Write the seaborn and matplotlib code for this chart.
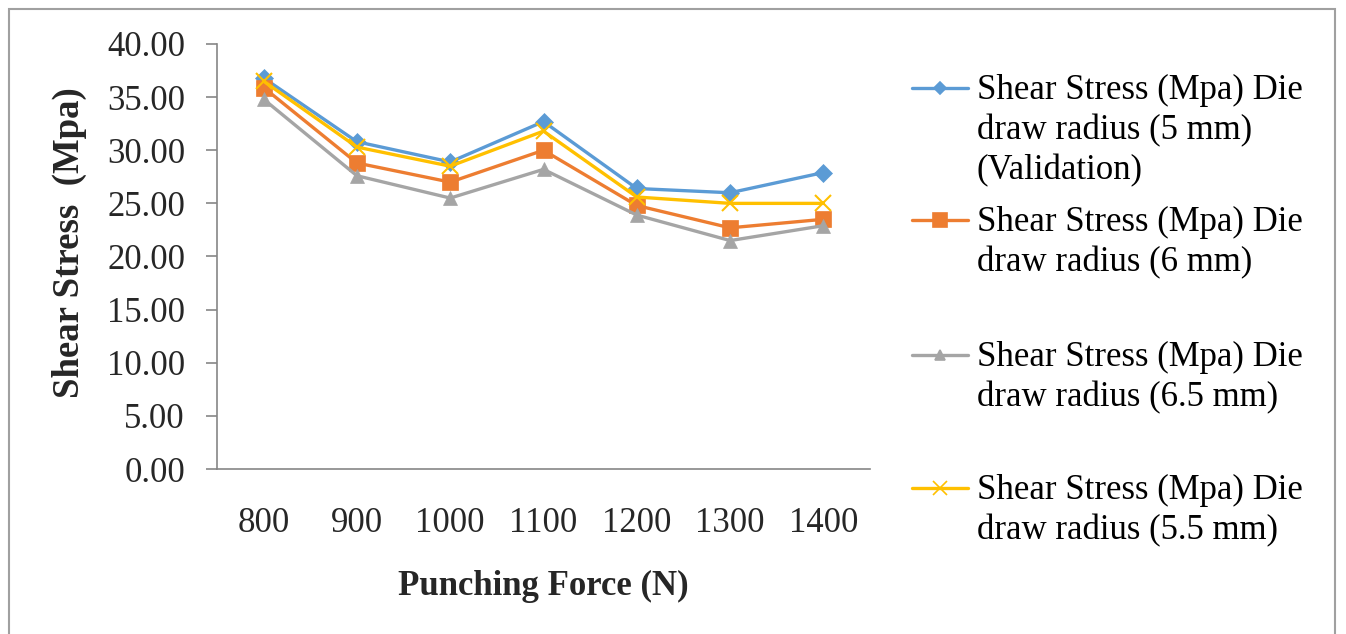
import matplotlib
matplotlib.use("Agg")
import matplotlib.pyplot as plt
from matplotlib.lines import Line2D
from matplotlib.patches import Rectangle
import seaborn as sns
import pandas as pd

forces = ["800", "900", "1000", "1100", "1200", "1300", "1400"]
r5_validation = [36.8, 30.8, 28.9, 32.7, 26.4, 26.0, 27.9]
r6 = [35.9, 28.8, 27.0, 30.0, 24.8, 22.7, 23.5]
r65 = [34.8, 27.6, 25.5, 28.2, 23.9, 21.5, 22.9]
r55 = [36.5, 30.3, 28.5, 31.8, 25.6, 25.0, 25.0]

labels = [
    "Shear Stress (Mpa) Die\ndraw radius (5 mm)\n(Validation)",
    "Shear Stress (Mpa) Die\ndraw radius (6 mm)",
    "Shear Stress (Mpa) Die\ndraw radius (6.5 mm)",
    "Shear Stress (Mpa) Die\ndraw radius (5.5 mm)",
]
series = [r5_validation, r6, r65, r55]
colors = ["#5B9BD5", "#ED7D31", "#A5A5A5", "#FFC000"]
markers = ["D", "s", "^", "x"]
msizes = [9, 11, 10, 11]

sns.set_theme(style="white")
plt.rcParams["font.family"] = ["Liberation Serif", "DejaVu Serif"]

fig = plt.figure(figsize=(13.46, 6.34), dpi=100)
ax = fig.add_axes([217/1346, 1-469/634, (870-217)/1346, (469-44)/634])

for vals, lab, c, m, ms in zip(series, labels, colors, markers, msizes):
    df = pd.DataFrame({"force": forces, "stress": vals})
    sns.lineplot(data=df, x="force", y="stress", ax=ax, color=c, marker=m,
                 markersize=ms, linewidth=2.4, markeredgecolor=c,
                 markeredgewidth=1.5 if m == "x" else 0.5, label=lab, legend=False)

ax.set_xlim(-0.5, 6.5)
ax.set_ylim(0, 40)
ax.set_yticks(range(0, 41, 5))
ax.set_yticklabels([f"{v:.2f}" for v in range(0, 41, 5)])
ax.tick_params(axis="y", direction="out", length=8, width=1.2, color="#868686",
               labelsize=25, pad=15, left=True)
ax.tick_params(axis="x", length=0, labelsize=25, pad=27)
for s in ["top", "right"]:
    ax.spines[s].set_visible(False)
for s in ["left", "bottom"]:
    ax.spines[s].set_color("#868686")
    ax.spines[s].set_linewidth(1.2)
ax.set_xlabel("Punching Force (N)", fontsize=25, fontweight="bold", labelpad=22)
ax.set_ylabel("Shear Stress  (Mpa)", fontsize=26.5, fontweight="bold", labelpad=14)
ax.yaxis.label.set_y(0.5 + 14/425)
ax.grid(False)

# legend drawn manually, handles aligned with first text line
W, H = 1346, 634
ys = [88, 220, 355, 488]
for y, lab, c, m, ms in zip(ys, labels, colors, markers, [6, 10, 7, 10]):
    fy = 1 - y / H
    fig.add_artist(Line2D([912/W, 968/W], [fy, fy], transform=fig.transFigure,
                          color=c, linewidth=2.4))
    fig.add_artist(Line2D([940/W], [fy], transform=fig.transFigure, color=c,
                          marker=m, markersize=ms, markeredgecolor=c,
                          markeredgewidth=1.2, linestyle="none"))
    fig.text(977/W, 1 - (y - 14) / H, lab, fontsize=25, va="top", ha="left",
             linespacing=1.28, color="black", transform=fig.transFigure)

# outer border
fig.add_artist(Rectangle((9/W, -0.05), (1335-9)/W, 1 - 9/H + 0.05,
                         transform=fig.transFigure, fill=False,
                         edgecolor="#A0A0A0", linewidth=1.5))

fig.savefig("out.png", dpi=100)
